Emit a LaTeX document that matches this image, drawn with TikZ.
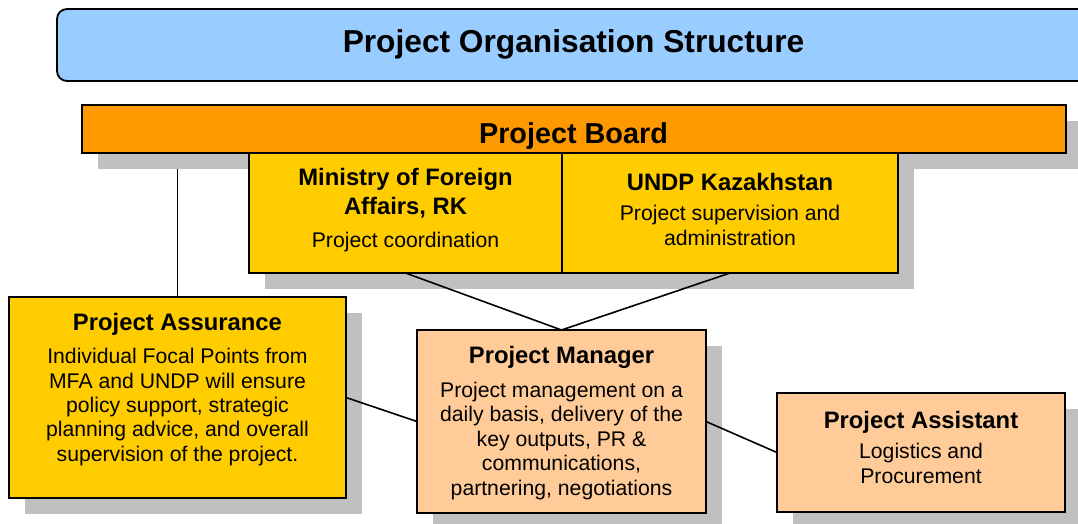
\documentclass[tikz,border=0pt]{standalone}
\usepackage{fontspec}
\setmainfont{Liberation Sans}
\usetikzlibrary{shadows,backgrounds}

\definecolor{titleblue}{HTML}{99CCFF}
\definecolor{boardorange}{HTML}{FF9900}
\definecolor{partyyellow}{HTML}{FFCC00}
\definecolor{staffpeach}{HTML}{FFCC99}
\definecolor{shadowgray}{HTML}{C0C0C0}

% first-line strut: puts a node's top exactly 20pt above its first baseline
\newcommand{\firstln}{\rule{0pt}{20pt}}

\begin{document}
\begin{tikzpicture}[x=1pt,y=-1pt,
  box/.style={draw=black, line width=1.8pt, rectangle, inner sep=0pt, outer sep=0pt,
    drop shadow={shadow xshift=16pt, shadow yshift=-16pt, fill=shadowgray, opacity=1}},
  banner/.style={draw=black, line width=1.8pt, rectangle, rounded corners=10pt,
    inner sep=0pt, outer sep=0pt, fill=titleblue},
  link/.style={draw=black, line width=1.6pt},
  headtxt/.style={font=\bfseries\fontsize{23.8pt}{29pt}\selectfont, align=center,
    inner sep=0pt, anchor=north},
  bodytxt/.style={font=\fontsize{21.2pt}{24.5pt}\selectfont, align=center,
    inner sep=0pt, anchor=north},
]
\useasboundingbox (0,0) rectangle (1078,523);
\clip (0,0) rectangle (1078,523);

% heading banner
\node[banner, minimum width=1043pt, minimum height=72pt] (banner) at (578.5,45) {};
\node[anchor=base, inner sep=0pt, font=\bfseries\fontsize{31.7pt}{36pt}\selectfont]
  (banner-t) at (573.5,52.5) {Project Organisation Structure};

% project board and its two member organisations
\node[box, fill=boardorange, minimum width=984pt, minimum height=48pt] (board) at (574,129) {};
\node[anchor=base, inner sep=0pt, font=\bfseries\fontsize{28.8pt}{33pt}\selectfont]
  (board-t) at (573.5,143.3) {Project Board};

\node[box, fill=partyyellow, minimum width=313pt, minimum height=120pt] (mfa) at (405.5,213) {};
\node[box, fill=partyyellow, minimum width=336pt, minimum height=120pt] (undp) at (730,213) {};

\node[headtxt] (mfa-head) at (405.5,165.3) {\firstln Ministry of Foreign\\Affairs, RK};
\node[bodytxt] (mfa-body) at (405.5,227) {\firstln Project coordination};

\node[headtxt] (undp-head) at (730,170.3) {\firstln UNDP Kazakhstan};
\node[bodytxt] (undp-body) at (730,200.5) {\firstln Project supervision and\\administration};

% assurance, manager and assistant
\node[box, fill=partyyellow, minimum width=337pt, minimum height=201pt] (pa) at (177.5,397.5) {};
\node[headtxt] (pa-head) at (177.5,310) {\firstln Project Assurance};
\node[bodytxt, font=\fontsize{21.2pt}{24.4pt}\selectfont] (pa-body) at (177.5,343.5)
  {\firstln Individual Focal Points from\\MFA and UNDP will ensure\\policy support, strategic\\planning advice, and overall\\supervision of the project.};

\node[box, fill=staffpeach, minimum width=289pt, minimum height=183pt] (pm) at (561.5,421.5) {};
\node[headtxt] (pm-head) at (561.5,343.7) {\firstln Project Manager};
\node[bodytxt, font=\fontsize{21.2pt}{24.6pt}\selectfont] (pm-body) at (561.5,376.9)
  {\firstln Project management on a\\daily basis, delivery of the\\key outputs, PR \&\\communications,\\partnering, negotiations};

\node[box, fill=staffpeach, minimum width=288pt, minimum height=119pt] (asst) at (921,452.5) {};
\node[headtxt] (asst-head) at (921,408.7) {\firstln Project Assistant};
\node[bodytxt, font=\fontsize{21.2pt}{25pt}\selectfont] (asst-body) at (921,438.5)
  {\firstln Logistics and\\Procurement};

% reporting lines
\begin{pgfonlayer}{background}
  \draw[link] (pa.north) -- (pa.north |- board.south);
\end{pgfonlayer}
\draw[link] (mfa.south) -- (pm.north);
\draw[link] (undp.south) -- (pm.north);
\draw[link] (pa.east) -- (pm.west);
\draw[link] (pm.east) -- (asst.west);
\end{tikzpicture}
\end{document}
